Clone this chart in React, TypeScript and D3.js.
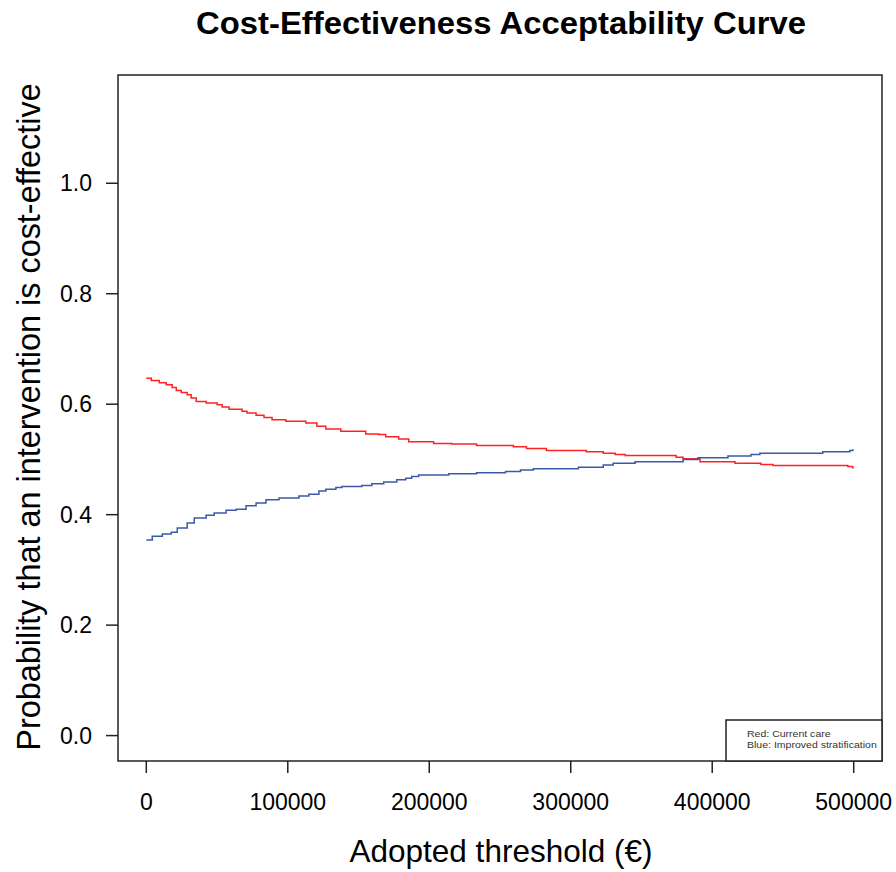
import React from 'react';
import * as d3 from 'd3';

// step points (threshold in €, probability)
const redThresholds = [0, 3500, 9200, 14100, 18300, 21200, 24700, 28900, 31700, 35300, 42300, 50100, 53600, 58500, 67700, 71200, 77600, 83200, 88900, 98700, 112800, 120600, 126900, 137500, 155100, 164300, 169200, 178400, 185500, 203100, 215800, 233400, 259500, 268700, 282800, 311000, 323000, 331400, 338500, 374500, 379400, 391400, 416100, 434400, 442900, 495800, 499300, 500000];
const redValues = [0.647, 0.643, 0.639, 0.635, 0.630, 0.625, 0.621, 0.617, 0.611, 0.605, 0.602, 0.599, 0.595, 0.591, 0.587, 0.584, 0.580, 0.576, 0.572, 0.569, 0.566, 0.560, 0.555, 0.551, 0.546, 0.545, 0.541, 0.537, 0.532, 0.529, 0.528, 0.525, 0.523, 0.520, 0.516, 0.514, 0.511, 0.509, 0.507, 0.504, 0.501, 0.496, 0.493, 0.491, 0.489, 0.487, 0.485, 0.485];

const blueThresholds = [0, 4200, 11300, 17600, 21900, 28900, 33900, 42300, 48000, 56400, 63500, 70500, 77600, 84600, 93800, 107900, 114900, 122000, 126900, 134000, 138200, 152300, 159400, 167800, 177000, 183400, 187600, 192500, 213700, 233400, 253900, 264500, 273600, 305400, 323000, 330000, 345500, 379400, 390000, 411100, 427400, 433700, 478100, 497200, 499300, 500000];
const blueValues = [0.354, 0.361, 0.365, 0.368, 0.376, 0.385, 0.394, 0.399, 0.403, 0.408, 0.410, 0.416, 0.421, 0.427, 0.430, 0.434, 0.437, 0.443, 0.446, 0.449, 0.451, 0.453, 0.456, 0.459, 0.463, 0.466, 0.469, 0.472, 0.474, 0.476, 0.478, 0.481, 0.483, 0.486, 0.490, 0.493, 0.496, 0.500, 0.503, 0.506, 0.509, 0.511, 0.514, 0.516, 0.517, 0.517];

const xTicks = [0, 100000, 200000, 300000, 400000, 500000];
const yTicks = [0.0, 0.2, 0.4, 0.6, 0.8, 1.0];

const legendLines = ['Red: Current care', 'Blue: Improved stratification'];

const W = 896;
const H = 872;
const box = { left: 118, top: 75, right: 882, bottom: 761 };
const font = 'Arial, "Liberation Sans", sans-serif';

export default function App() {
  const x = d3.scaleLinear().domain([-20000, 520000]).range([box.left, box.right]);
  const y = d3.scaleLinear().domain([-0.046, 1.196]).range([box.bottom, box.top]);

  const line = d3.line<[number, number]>()
    .x(d => x(d[0]))
    .y(d => y(d[1]))
    .curve(d3.curveStepAfter);

  const red = redThresholds.map((t, i) => [t, redValues[i]] as [number, number]);
  const blue = blueThresholds.map((t, i) => [t, blueValues[i]] as [number, number]);

  return (
    <svg width={W} height={H} style={{ position: 'absolute', left: 0, top: 0, background: '#fff' }} fontFamily={font}>
      <text x={501} y={34} textAnchor="middle" fontSize={31} fontWeight="bold"
        textLength={610} lengthAdjust="spacingAndGlyphs">
        Cost-Effectiveness Acceptability Curve
      </text>

      {/* curves */}
      <path d={line(red) ?? ''} fill="none" stroke="#f22" strokeWidth={1.5} />
      <path d={line(blue) ?? ''} fill="none" stroke="#3a5aa8" strokeWidth={1.5} />

      {/* plot frame */}
      <rect x={box.left} y={box.top} width={box.right - box.left} height={box.bottom - box.top}
        fill="none" stroke="#222" strokeWidth={1.5} />

      {/* x axis */}
      {xTicks.map(t => (
        <g key={t}>
          <line x1={x(t)} x2={x(t)} y1={box.bottom} y2={box.bottom + 12} stroke="#222" strokeWidth={1.5} />
          <text x={x(t)} y={810} textAnchor="middle" fontSize={23}>{t}</text>
        </g>
      ))}

      {/* y axis */}
      {yTicks.map(t => (
        <g key={t}>
          <line x1={box.left - 12} x2={box.left} y1={y(t)} y2={y(t)} stroke="#222" strokeWidth={1.5} />
          <text x={92} y={y(t) + 8} textAnchor="end" fontSize={23}>{t.toFixed(1)}</text>
        </g>
      ))}

      <text x={501} y={862} textAnchor="middle" fontSize={31.5}>Adopted threshold (€)</text>
      <text transform={`translate(40,${(box.top + box.bottom) / 2 - 1}) rotate(-90)`} textAnchor="middle" fontSize={32.4}>
        Probability that an intervention is cost-effective
      </text>

      {/* legend */}
      <rect x={726} y={720} width={box.right - 726} height={box.bottom - 720} fill="#fff" stroke="#222" strokeWidth={1.5} />
      <g transform="translate(747,0) scale(1.12,1)">
        {legendLines.map((s, i) => (
          <text key={s} x={0} y={737 + i * 11} fontSize={9.4} fill="#333">{s}</text>
        ))}
      </g>
    </svg>
  );
}
